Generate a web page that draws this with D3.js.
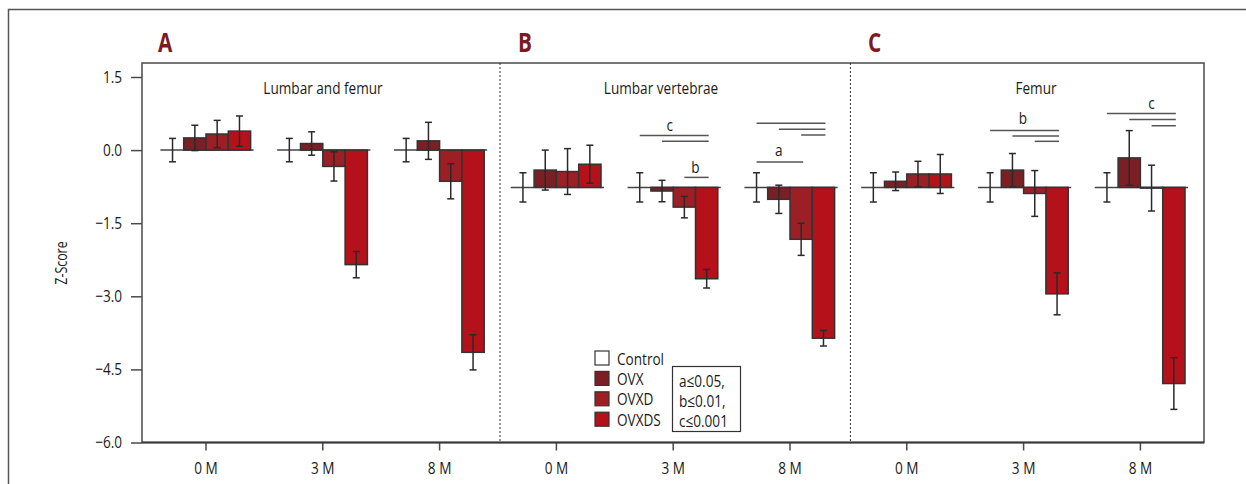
<!DOCTYPE html>
<html>
<head>
<meta charset="utf-8">
<script src="https://cdn.jsdelivr.net/npm/d3@7"></script>
<style>
  body { margin: 0; background: #fff; }
  svg text { font-family: "Open Sans", "DejaVu Sans", sans-serif; fill: #1a1a1a; }
</style>
</head>
<body>
<script>
// panels, time points and treatment groups
var panels = ["A", "B", "C"];
var panelTitles = ["Lumbar and femur", "Lumbar vertebrae", "Femur"];
var times = ["0 M", "3 M", "8 M"];
var groups = ["Control", "OVX", "OVXD", "OVXDS"];
var yTicks = [1.5, 0, -1.5, -3, -4.5, -6];

// reference level each panel's bars hang from (the control mean)
var baseline = [0, -0.765, -0.765];

// mean Z-score per panel -> time -> group
var meansA = [[0, 0.25, 0.33, 0.39], [0, 0.135, -0.335, -2.35], [0, 0.19, -0.64, -4.15]];
var meansB = [[-0.765, -0.41, -0.44, -0.29], [-0.765, -0.84, -1.17, -2.64], [-0.765, -1.01, -1.83, -3.86]];
var meansC = [[-0.765, -0.64, -0.49, -0.49], [-0.765, -0.41, -0.89, -2.95], [-0.765, -0.16, -0.78, -4.79]];

// error (half length of the error bar)
var errA = [[0.24, 0.26, 0.28, 0.31], [0.24, 0.24, 0.30, 0.27], [0.24, 0.38, 0.36, 0.36]];
var errB = [[0.30, 0.41, 0.47, 0.39], [0.30, 0.22, 0.22, 0.19], [0.30, 0.29, 0.33, 0.16]];
var errC = [[0.30, 0.19, 0.26, 0.40], [0.30, 0.34, 0.47, 0.43], [0.30, 0.56, 0.47, 0.53]];

// significance lines: [panel, time, from group, to group, z level]
var sigLines = [
  [1, 1, 0, 3, 0.30], [1, 1, 1, 3, 0.18], [1, 1, 2, 3, -0.56],
  [1, 2, 0, 3, 0.55], [1, 2, 1, 3, 0.43], [1, 2, 2, 3, 0.31], [1, 2, 0, 2, -0.245],
  [2, 1, 0, 3, 0.40], [2, 1, 1, 3, 0.29], [2, 1, 2, 3, 0.18],
  [2, 2, 0, 3, 0.75], [2, 2, 1, 3, 0.63], [2, 2, 2, 3, 0.50]
];
// significance letters: [panel, time, letter, z of baseline, bar slot]
var sigLabels = [
  [1, 1, "c", 0.40, 1.35], [1, 1, "b", -0.47, 2.5],
  [1, 2, "a", -0.12, 1],
  [2, 1, "b", 0.54, 1.47],
  [2, 2, "c", 0.84, 2]
];
var statNotes = ["a\u22640.05,", "b\u22640.01,", "c\u22640.001"];

var means = [meansA, meansB, meansC];
var errs = [errA, errB, errC];

var colors = {Control: "#ffffff", OVX: "#7b1f25", OVXD: "#9c1f25", OVXDS: "#b5111b"};

var W = 1246, H = 484;
var plot = {left: 142, right: 1204, top: 63, bottom: 442.5};
var SX = 0.8; // horizontal squeeze to get a condensed face

var svg = d3.select("body").append("svg")
  .attr("width", W)
  .attr("height", H);

svg.append("rect").attr("width", W).attr("height", H).attr("fill", "#fff");

// condensed text helper
function label(parent, tx, ty, str, size, anchor) {
  return parent.append("text")
    .attr("transform", "translate(" + tx + "," + ty + ") scale(" + SX + ",1)")
    .attr("text-anchor", anchor || "start")
    .style("font-size", size + "px")
    .text(str);
}

// outer figure frame (only top and left show)
svg.append("path")
  .attr("d", "M8.5," + (H + 5) + "V9.5H" + (W + 5))
  .attr("fill", "none")
  .attr("stroke", "#555")
  .attr("stroke-width", 1.5);

// one slot per panel/time
var keys = [];
panels.forEach(function (p, pi) {
  times.forEach(function (t, ti) { keys.push(pi + "_" + ti); });
});

var x = d3.scaleBand()
  .domain(keys)
  .range([147.6, 1198.8])
  .paddingInner(0.236)
  .paddingOuter(0.118);

var xg = d3.scaleBand()
  .domain(groups)
  .range([0, x.bandwidth()]);

var y = d3.scaleLinear()
  .domain([-6, 1.5])
  .range([plot.bottom, 77]);

// plot frame
svg.append("rect")
  .attr("x", plot.left)
  .attr("y", plot.top)
  .attr("width", plot.right - plot.left)
  .attr("height", plot.bottom - plot.top)
  .attr("fill", "none")
  .attr("stroke", "#4a4a4a")
  .attr("stroke-width", 1.5);

// dotted panel separators
[2, 5].forEach(function (i) {
  var sx = (x(keys[i]) + x(keys[i + 1]) + x.bandwidth()) / 2 + 2;
  svg.append("line")
    .attr("x1", sx).attr("x2", sx)
    .attr("y1", plot.top).attr("y2", plot.bottom)
    .attr("stroke", "#333")
    .attr("stroke-width", 1)
    .attr("stroke-dasharray", "2,2");
});

// y axis
var yAxis = svg.append("g")
  .attr("transform", "translate(" + plot.left + ",0)")
  .call(d3.axisLeft(y).tickValues(yTicks).tickSize(11).tickPadding(9).tickFormat(d3.format(".1f")));
yAxis.select(".domain").remove();
yAxis.selectAll("line").attr("stroke", "#4a4a4a").attr("stroke-width", 1.5);
yAxis.selectAll("text")
  .style("font-size", "17px")
  .attr("fill", "#1a1a1a")
  .attr("x", -20 / SX)
  .attr("transform", "scale(" + SX + ",1)");

svg.append("text")
  .attr("transform", "translate(67,263) rotate(-90) scale(" + SX + ",1)")
  .attr("text-anchor", "middle")
  .style("font-size", "15.5px")
  .text("Z-Score");

// x axis
var xAxis = svg.append("g")
  .attr("transform", "translate(0," + plot.bottom + ")")
  .call(d3.axisBottom(x).tickSize(8).tickPadding(11).tickFormat(function (k) {
    return times[+k.split("_")[1]];
  }));
xAxis.select(".domain").remove();
xAxis.selectAll("line").attr("stroke", "#4a4a4a").attr("stroke-width", 1.5);
xAxis.selectAll("text")
  .style("font-size", "17px")
  .attr("fill", "#1a1a1a")
  .attr("transform", "scale(" + SX + ",1)");

svg.append("line")
  .attr("x1", plot.left).attr("x2", plot.right)
  .attr("y1", plot.bottom).attr("y2", plot.bottom)
  .attr("stroke", "#3a3a3a")
  .attr("stroke-width", 2);

// panel letters and titles
var letterX = [158, 518, 868];
var titleX = [323, 661, 1036];
panels.forEach(function (p, pi) {
  label(svg, letterX[pi], 52, p, 26)
    .style("font-weight", "bold")
    .style("fill", "#7d1a1f");
  label(svg, titleX[pi], 94, panelTitles[pi], 17, "middle");
});

// bars
var barData = [];
panels.forEach(function (p, pi) {
  times.forEach(function (t, ti) {
    groups.forEach(function (g, gi) {
      barData.push({
        key: pi + "_" + ti, group: g, base: baseline[pi],
        value: means[pi][ti][gi], err: errs[pi][ti][gi]
      });
    });
  });
});

// reference line under each group
var slots = svg.append("g");
keys.forEach(function (k) {
  var pi = +k.split("_")[0];
  slots.append("line")
    .attr("x1", x(k) - 1)
    .attr("x2", x(k) + x.bandwidth() + 3)
    .attr("y1", y(baseline[pi]))
    .attr("y2", y(baseline[pi]))
    .attr("stroke", "#444")
    .attr("stroke-width", 1.5);
});

svg.append("g").selectAll("rect")
  .data(barData.filter(function (d) { return d.group != "Control"; }))
  .enter()
  .append("rect")
  .attr("x", function (d) { return x(d.key) + xg(d.group); })
  .attr("width", xg.bandwidth())
  .attr("y", function (d) { return y(Math.max(d.value, d.base)); })
  .attr("height", function (d) { return Math.abs(y(d.value) - y(d.base)); })
  .attr("fill", function (d) { return colors[d.group]; })
  .attr("stroke", "#333")
  .attr("stroke-width", 1.5);

// error bars
var eb = svg.append("g")
  .attr("stroke", "#2a2a2a")
  .attr("stroke-width", 1.5);
barData.forEach(function (d) {
  var cx = x(d.key) + xg(d.group) + xg.bandwidth() / 2;
  var y0 = y(d.value - d.err), y1 = y(d.value + d.err);
  eb.append("line").attr("x1", cx).attr("x2", cx).attr("y1", y0).attr("y2", y1);
  eb.append("line").attr("x1", cx - 3.5).attr("x2", cx + 3.5).attr("y1", y0).attr("y2", y0);
  eb.append("line").attr("x1", cx - 3.5).attr("x2", cx + 3.5).attr("y1", y1).attr("y2", y1);
});

// significance lines and letters
function slotX(pi, ti, s) {
  return x(pi + "_" + ti) + (s + 0.5) * xg.bandwidth();
}
sigLines.forEach(function (s) {
  svg.append("line")
    .attr("x1", slotX(s[0], s[1], s[2]))
    .attr("x2", slotX(s[0], s[1], s[3]) + 2)
    .attr("y1", y(s[4]))
    .attr("y2", y(s[4]))
    .attr("stroke", "#555")
    .attr("stroke-width", 1.5);
});
sigLabels.forEach(function (s) {
  label(svg, slotX(s[0], s[1], s[4]), y(s[3]), s[2], 17, "middle");
});

// legend
var legend = svg.append("g").attr("transform", "translate(595,351)");
groups.forEach(function (g, gi) {
  legend.append("rect")
    .attr("x", 0)
    .attr("y", gi * 20.4)
    .attr("width", 14)
    .attr("height", 14)
    .attr("fill", colors[g])
    .attr("stroke", "#333")
    .attr("stroke-width", 1.2);
  label(legend, 22, gi * 20.4 + 13.5, g, 17);
});

// p-value box
svg.append("rect")
  .attr("x", 672.5).attr("y", 366.5)
  .attr("width", 68).attr("height", 65)
  .attr("fill", "#fff")
  .attr("stroke", "#333")
  .attr("stroke-width", 1.2);
statNotes.forEach(function (s, i) {
  label(svg, 679, 387 + i * 20, s, 17);
});
</script>
</body>
</html>
